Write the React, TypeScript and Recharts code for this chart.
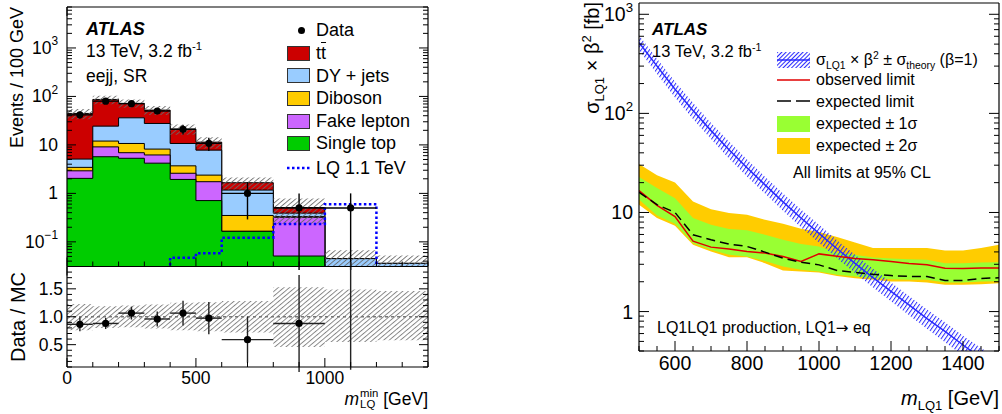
import React from 'react';
import { ComposedChart, Area, Line, Scatter, XAxis, YAxis, ErrorBar, ReferenceLine } from 'recharts';

const FONT = '"Liberation Sans", Arial, Helvetica, sans-serif';

// ---------------- Left panel: m_LQ^min distribution (events / 100 GeV) ----------------
const binEdges = [0, 100, 200, 300, 400, 500, 600, 800, 1000, 1200, 1400];
const singleTop = [2.04, 5.7, 5.3, 4.2, 1.94, 0.71, 0.165, 0.051, 0, 0];
const fakeLepton = [0.88, 3.4, 1.6, 2.0, 0.66, 1.03, 0, 0.27, 0, 0];
const diboson = [0.52, 2.9, 3.8, 2.0, 1.1, 0.64, 0.185, 0.01, 0, 0];
const dyJets = [1.66, 12.4, 25.5, 19.5, 7.0, 5.42, 0.82, 0.06, 0.045, 0.036];
const ttbar = [39.5, 62.3, 35.6, 24.5, 10.5, 3.6, 0.49, 0.12, 0, 0];
const lq1100 = [0, 0, 0, 0, 0.047, 0.058, 0.122, 0.233, 0.6, 0];
const mcUncLow = [0.76, 0.8, 0.81, 0.79, 0.76, 0.74, 0.72, 0.46, 0.55, 0.58];
const mcUncHigh = [1.23, 1.19, 1.2, 1.22, 1.25, 1.26, 1.28, 1.53, 1.49, 1.46];

const dataX = [50, 150, 250, 350, 450, 550, 700, 900, 1100];
const dataHalfWidth = [50, 50, 50, 50, 50, 50, 100, 100, 100];
const dataY = [41.7, 80, 71, 50, 21, 10.8, 1.0, 0.5, 0.5];
const dataErrDown = [6.5, 8.9, 8.4, 7.1, 4.6, 3.3, 0.71, 0.4999, 0.4999];
const dataErrUp = [6.5, 8.9, 8.4, 7.1, 4.6, 3.3, 0.71, 0.5, 0.5];
const ratioY = [0.865, 0.88, 1.065, 0.96, 1.065, 0.975, 0.59, 0.88, 11];
const ratioErrDown = [0.125, 0.1, 0.115, 0.135, 0.22, 0.29, 0.41, 0.87, 10.95];
const ratioErrUp = [0.125, 0.1, 0.115, 0.135, 0.22, 0.29, 0.41, 0.87, 10.95];

// ---------------- Right panel: limits ----------------
const lqMass = [500, 550, 600, 650, 700, 750, 800, 850, 900, 950, 1000, 1050, 1100, 1150, 1200, 1250, 1300, 1350, 1400, 1450, 1500];
const observedLimit = [16.6, 11.8, 9.1, 5.14, 4.47, 4.27, 4.04, 3.89, 3.6, 3.2, 3.82, 3.62, 3.44, 3.33, 3.2, 3.06, 2.96, 2.74, 2.72, 2.76, 2.76];
const expectedLimit = [16.0, 12.0, 10.0, 5.96, 5.3, 4.8, 4.54, 3.98, 3.46, 3.15, 2.96, 2.6, 2.48, 2.38, 2.31, 2.26, 2.26, 2.06, 2.06, 2.16, 2.19];
const exp1Low = [13.5, 9.3, 7.7, 4.9, 4.2, 3.74, 3.6, 3.23, 2.85, 2.64, 2.54, 2.35, 2.26, 2.17, 2.12, 2.09, 2.09, 1.96, 1.96, 2.01, 2.02];
const exp1High = [22.8, 17.7, 13.9, 8.8, 7.5, 6.8, 6.6, 5.96, 5.3, 4.8, 4.54, 3.95, 3.74, 3.52, 3.44, 3.38, 3.33, 3.08, 3.08, 3.13, 3.15];
const exp2Low = [12, 8.8, 7.35, 4.72, 4.04, 3.54, 3.54, 3.08, 2.6, 2.54, 2.48, 2.29, 2.17, 2.09, 2.01, 2.01, 1.96, 1.86, 1.86, 1.89, 1.93];
const exp2High = [30.9, 23.7, 20.1, 12.9, 10.8, 9.9, 9.5, 8.45, 7.7, 6.85, 6.34, 5.65, 4.99, 4.37, 4.37, 4.37, 4.37, 4.14, 4.14, 4.37, 4.72];
const theoryXsec = [520, 300, 175, 107, 67, 43, 28.3, 19, 12.8, 8.8, 6.15, 4.3, 3.07, 2.2, 1.6, 1.17, 0.85, 0.63, 0.46, 0.34, 0.26];
const theoryLow = [435, 250, 145, 88, 55, 35, 23.1, 15.5, 10.4, 7.1, 4.95, 3.45, 2.45, 1.75, 1.27, 0.92, 0.67, 0.49, 0.36, 0.26, 0.2];
const theoryHigh = [615, 355, 208, 128, 80, 52, 34.2, 23, 15.5, 10.7, 7.5, 5.25, 3.75, 2.7, 1.97, 1.44, 1.05, 0.78, 0.57, 0.43, 0.33];

// ---------------- derived tables ----------------
const pos = (v: number) => (v > 0 ? v : 1e-4);
const histTable = binEdges.map((x, i) => {
  const b = Math.min(i, singleTop.length - 1);
  const st = singleTop[b];
  const fk = st + fakeLepton[b];
  const db = fk + diboson[b];
  const dy = db + dyJets[b];
  const tt = dy + ttbar[b];
  return {
    x,
    st: pos(st),
    fk: pos(fk),
    db: pos(db),
    dy: pos(dy),
    tt: pos(tt),
    band: [tt * mcUncLow[b], tt * mcUncHigh[b]],
    lq: pos(lq1100[b]),
  };
});
const ratioTable = binEdges.map((x, i) => {
  const b = Math.min(i, mcUncLow.length - 1);
  return { x, band: [mcUncLow[b], mcUncHigh[b]] };
});
const dataPoints = dataX.map((x, i) => ({
  x,
  y: dataY[i],
  ey: [dataErrDown[i], dataErrUp[i]],
  ex: [dataHalfWidth[i], dataHalfWidth[i]],
}));
const ratioPoints = dataX.map((x, i) => ({
  x,
  y: ratioY[i],
  ey: [ratioErrDown[i], ratioErrUp[i]],
  ex: [dataHalfWidth[i], dataHalfWidth[i]],
}));
const limitTable = lqMass.map((x, i) => ({
  x,
  obs: observedLimit[i],
  exp: expectedLimit[i],
  s1: [exp1Low[i], exp1High[i]],
  s2: [exp2Low[i], exp2High[i]],
  th: theoryXsec[i],
  thBand: [theoryLow[i], theoryHigh[i]],
}));

// ---------------- tick helpers ----------------
const logTicks = (min: number, max: number) => {
  const out: number[] = [];
  for (let e = -3; e <= 5; e++) {
    for (let m = 1; m <= 9; m++) {
      const v = m * Math.pow(10, e);
      if (v >= min * 0.9999 && v <= max * 1.0001) out.push(v);
    }
  }
  return out;
};
const isLogMajor = (v: number) => Math.abs(Math.log10(v) - Math.round(Math.log10(v))) < 1e-6;
const logLabel = (v: number) => {
  const e = Math.round(Math.log10(v));
  if (e === 0) return '1';
  if (e === 1) return '10';
  return (
    <>
      10
      <tspan dy="-0.55em" fontSize="0.68em">{e < 0 ? '\u2212' + -e : String(e)}</tspan>
    </>
  );
};
const rangeTicks = (a: number, b: number, step: number) => {
  const out: number[] = [];
  for (let v = a; v <= b + 1e-9; v += step) out.push(Math.round(v * 1000) / 1000);
  return out;
};

type Side = 'left' | 'right' | 'top' | 'bottom';
function makeTick(
  side: Side,
  isMajor: (v: number) => boolean,
  majorLen: number,
  minorLen: number,
  label?: (v: number) => React.ReactNode,
  fontSize = 18,
  gap = 8
) {
  return (props: any) => {
    const { x, y, payload } = props;
    const v = payload.value;
    const maj = isMajor(v);
    const len = maj ? majorLen : minorLen;
    let x2 = x;
    let y2 = y;
    if (side === 'left') x2 = x + len;
    else if (side === 'right') x2 = x - len;
    else if (side === 'bottom') y2 = y - len;
    else y2 = y + len;
    let text: React.ReactNode = null;
    if (maj && label) {
      if (side === 'left') {
        text = (
          <text x={x - gap} y={y} textAnchor="end" dominantBaseline="central" fontSize={fontSize} fontFamily={FONT} fill="#000">
            {label(v)}
          </text>
        );
      } else if (side === 'bottom') {
        text = (
          <text x={x} y={y + gap} textAnchor="middle" dominantBaseline="central" fontSize={fontSize} fontFamily={FONT} fill="#000">
            {label(v)}
          </text>
        );
      }
    }
    return (
      <g>
        <line x1={x} y1={y} x2={x2} y2={y2} stroke="#000" strokeWidth={1} />
        {text}
      </g>
    );
  };
}

const axisLine = { stroke: '#000', strokeWidth: 1.2 };
const commonAxis = { tickSize: 0, tickMargin: 0, tickLine: false, interval: 0 as const, axisLine, allowDataOverflow: true };

const DataDot = (props: any) => {
  const { cx, cy } = props;
  if (cx == null || cy == null || isNaN(cx) || isNaN(cy)) return <g />;
  return <circle cx={cx} cy={cy} r={3.6} fill="#000" />;
};

const Hatch = ({ id, color, spacing, angle, width }: { id: string; color: string; spacing: number; angle: number; width: number }) => (
  <pattern id={id} patternUnits="userSpaceOnUse" width={spacing} height={10} patternTransform={`rotate(${angle})`}>
    <line x1={0.5} y1={0} x2={0.5} y2={10} stroke={color} strokeWidth={width} />
  </pattern>
);

// ---------------- text helpers ----------------
const Txt = ({ x, y, size, children, style }: any) => (
  <div
    style={{
      position: 'absolute',
      left: x,
      top: y,
      fontSize: size,
      lineHeight: 1,
      transform: 'translateY(-50%)',
      whiteSpace: 'nowrap',
      ...style,
    }}
  >
    {children}
  </div>
);
const Sup = ({ children }: any) => (
  <span style={{ fontSize: '0.65em', position: 'relative', top: '-0.6em' }}>{children}</span>
);
const Sub = ({ children }: any) => (
  <span style={{ fontSize: '0.65em', position: 'relative', top: '0.35em' }}>{children}</span>
);

const RotText = ({ cx, yAnchor, anchor, size, children }: any) => {
  const W = 300;
  const H = size * 1.2;
  let top = 0;
  let align: any = 'right';
  if (anchor === 'end') {
    top = yAnchor + W;
    align = 'right';
  } else {
    top = yAnchor + W / 2;
    align = 'center';
  }
  return (
    <div
      style={{
        position: 'absolute',
        left: cx - H / 2,
        top,
        width: W,
        height: H,
        lineHeight: `${H}px`,
        fontSize: size,
        textAlign: align,
        transformOrigin: '0 0',
        transform: 'rotate(-90deg)',
        whiteSpace: 'nowrap',
      }}
    >
      {children}
    </div>
  );
};

const Swatch = ({ x, y, w, h, color }: any) => (
  <div
    style={{
      position: 'absolute',
      left: x,
      top: y - h / 2,
      width: w - 2,
      height: h - 2,
      background: color,
      border: '1px solid #333',
    }}
  />
);

export default function App() {
  const leftTicksY = logTicks(0.031, 7000);
  const leftTicksX = rangeTicks(0, 1400, 100);
  const ratioTicksY = rangeTicks(0.1, 1.9, 0.1);
  const rightTicksX = rangeTicks(500, 1500, 50);
  const rightTicksY = logTicks(0.4, 1300);
  const xMajLeft = (v: number) => v % 500 === 0;
  const ratioMaj = (v: number) => Math.abs(v * 2 - Math.round(v * 2)) < 1e-6;
  const xMajRight = (v: number) => v % 200 === 0;

  const legRowsLeft = [53, 75.5, 98, 121, 143];
  const legColorsLeft = ['#cc0000', '#99ccff', '#ffcc00', '#cc66ff', '#00cc00'];

  return (
    <div
      style={{
        position: 'fixed',
        left: 0,
        top: 0,
        width: 1002,
        height: 414,
        background: '#fff',
        fontFamily: FONT,
        color: '#000',
        overflow: 'hidden',
      }}
    >
      {/* ---------- left top panel ---------- */}
      <div style={{ position: 'absolute', left: 0, top: 0 }}>
        <ComposedChart width={440} height={270} data={histTable} margin={{ top: 6, right: 11, bottom: 2.5, left: 66 }}>
          <defs>
            <Hatch id="hatchGrayTop" color="#666" spacing={3.6} angle={50} width={0.9} />
          </defs>
          <XAxis dataKey="x" type="number" domain={[0, 1400]} ticks={leftTicksX} height={1} tick={makeTick('bottom', xMajLeft, 9, 5)} {...commonAxis} />
          <XAxis xAxisId="top" orientation="top" type="number" domain={[0, 1400]} ticks={leftTicksX} height={1} tick={makeTick('top', xMajLeft, 9, 5)} {...commonAxis} />
          <YAxis scale="log" type="number" domain={[0.031, 7000]} ticks={leftTicksY} width={1} tick={makeTick('left', isLogMajor, 9, 5, logLabel, 17.5, 9)} {...commonAxis} />
          <YAxis yAxisId="right" orientation="right" scale="log" type="number" domain={[0.031, 7000]} ticks={leftTicksY} width={1} tick={makeTick('right', isLogMajor, 9, 5)} {...commonAxis} />
          <Area type="stepAfter" dataKey="tt" fill="#cc0000" fillOpacity={1} stroke="#000" strokeWidth={1} baseValue={0.031} dot={false} activeDot={false} isAnimationActive={false} />
          <Area type="stepAfter" dataKey="dy" fill="#99ccff" fillOpacity={1} stroke="#000" strokeWidth={1} baseValue={0.031} dot={false} activeDot={false} isAnimationActive={false} />
          <Area type="stepAfter" dataKey="db" fill="#ffcc00" fillOpacity={1} stroke="#000" strokeWidth={1} baseValue={0.031} dot={false} activeDot={false} isAnimationActive={false} />
          <Area type="stepAfter" dataKey="fk" fill="#cc66ff" fillOpacity={1} stroke="#000" strokeWidth={1} baseValue={0.031} dot={false} activeDot={false} isAnimationActive={false} />
          <Area type="stepAfter" dataKey="st" fill="#00cc00" fillOpacity={1} stroke="#000" strokeWidth={1} baseValue={0.031} dot={false} activeDot={false} isAnimationActive={false} />
          <Area type="stepAfter" dataKey="band" fill="url(#hatchGrayTop)" fillOpacity={1} stroke="none" dot={false} activeDot={false} isAnimationActive={false} />
          <Line type="stepAfter" dataKey="lq" stroke="#0000ff" strokeWidth={2.5} strokeDasharray="2.5 2.5" dot={false} activeDot={false} isAnimationActive={false} />
          <Scatter data={dataPoints} dataKey="y" shape={DataDot} isAnimationActive={false}>
            <ErrorBar dataKey="ey" direction="y" width={0} stroke="#000" strokeWidth={1.4} />
            <ErrorBar dataKey="ex" direction="x" width={0} stroke="#000" strokeWidth={1.4} />
          </Scatter>
        </ComposedChart>
      </div>

      {/* ---------- left ratio panel ---------- */}
      <div style={{ position: 'absolute', left: 0, top: 262 }}>
        <ComposedChart width={440} height={152} data={ratioTable} margin={{ top: 3.5, right: 11, bottom: 46, left: 66 }}>
          <defs>
            <Hatch id="hatchGrayRatio" color="#777" spacing={3.6} angle={50} width={0.9} />
          </defs>
          <XAxis dataKey="x" type="number" domain={[0, 1400]} ticks={leftTicksX} height={1} tick={makeTick('bottom', xMajLeft, 9, 5, (v) => String(v), 17.5, 11)} {...commonAxis} />
          <XAxis xAxisId="top" orientation="top" type="number" domain={[0, 1400]} ticks={leftTicksX} height={1} tick={makeTick('top', xMajLeft, 9, 5)} {...commonAxis} />
          <YAxis type="number" domain={[0.1, 1.9]} ticks={ratioTicksY} width={1} tick={makeTick('left', ratioMaj, 9, 5, (v) => v.toFixed(1), 17.5, 4)} {...commonAxis} />
          <YAxis yAxisId="right" orientation="right" type="number" domain={[0.1, 1.9]} ticks={ratioTicksY} width={1} tick={makeTick('right', ratioMaj, 9, 5)} {...commonAxis} />
          <Area type="stepAfter" dataKey="band" fill="url(#hatchGrayRatio)" fillOpacity={1} stroke="none" dot={false} activeDot={false} isAnimationActive={false} />
          <ReferenceLine y={1} stroke="#777" strokeWidth={1.5} strokeDasharray="3 3" />
          <Scatter data={ratioPoints} dataKey="y" shape={DataDot} isAnimationActive={false}>
            <ErrorBar dataKey="ey" direction="y" width={0} stroke="#222" strokeWidth={1.4} />
            <ErrorBar dataKey="ex" direction="x" width={0} stroke="#222" strokeWidth={1.4} />
          </Scatter>
        </ComposedChart>
      </div>

      {/* ---------- right limit panel ---------- */}
      <div style={{ position: 'absolute', left: 580, top: 0 }}>
        <ComposedChart width={422} height={414} data={limitTable} margin={{ top: 2, right: 2, bottom: 62, left: 58 }}>
          <defs>
            <Hatch id="hatchBlue" color="#2a2aff" spacing={3.4} angle={35} width={1} />
          </defs>
          <XAxis dataKey="x" type="number" domain={[500, 1500]} ticks={rightTicksX} height={1} tick={makeTick('bottom', xMajRight, 10, 5, (v) => String(v), 19.5, 12)} {...commonAxis} />
          <XAxis xAxisId="top" orientation="top" type="number" domain={[500, 1500]} ticks={rightTicksX} height={1} tick={makeTick('top', xMajRight, 10, 5)} {...commonAxis} />
          <YAxis scale="log" type="number" domain={[0.4, 1300]} ticks={rightTicksY} width={1} tick={makeTick('left', isLogMajor, 10, 5, logLabel, 19.5, 6)} {...commonAxis} />
          <YAxis yAxisId="right" orientation="right" scale="log" type="number" domain={[0.4, 1300]} ticks={rightTicksY} width={1} tick={makeTick('right', isLogMajor, 10, 5)} {...commonAxis} />
          <Area type="linear" dataKey="s2" fill="#ffcc00" fillOpacity={1} stroke="none" dot={false} activeDot={false} isAnimationActive={false} />
          <Area type="linear" dataKey="s1" fill="#99ff33" fillOpacity={1} stroke="none" dot={false} activeDot={false} isAnimationActive={false} />
          <Area type="linear" dataKey="thBand" fill="url(#hatchBlue)" fillOpacity={1} stroke="none" dot={false} activeDot={false} isAnimationActive={false} />
          <Line type="linear" dataKey="th" stroke="#2a2aff" strokeWidth={1.5} dot={false} activeDot={false} isAnimationActive={false} />
          <Line type="linear" dataKey="obs" stroke="#e00000" strokeWidth={1.5} dot={false} activeDot={false} isAnimationActive={false} />
          <Line type="linear" dataKey="exp" stroke="#000" strokeWidth={1.5} strokeDasharray="9 5" dot={false} activeDot={false} isAnimationActive={false} />
        </ComposedChart>
      </div>

      {/* ---------- left texts & legend ---------- */}
      <Txt x={86} y={29} size={18} style={{ fontWeight: 'bold', fontStyle: 'italic' }}>ATLAS</Txt>
      <Txt x={86} y={52} size={17.5}>13 TeV, 3.2 fb<Sup>-1</Sup></Txt>
      <Txt x={86} y={77} size={17.5}>eejj, SR</Txt>

      <div style={{ position: 'absolute', left: 298, top: 27, width: 7, height: 7, borderRadius: '50%', background: '#000' }} />
      <Txt x={316} y={30} size={18}>Data</Txt>
      {legRowsLeft.map((yy, i) => (
        <Swatch key={i} x={287} y={yy} w={23} h={15} color={legColorsLeft[i]} />
      ))}
      <Txt x={316} y={53} size={18}>t<span style={{ textDecoration: 'overline' }}>t</span></Txt>
      <Txt x={316} y={75.5} size={18}>DY + jets</Txt>
      <Txt x={316} y={98} size={18}>Diboson</Txt>
      <Txt x={316} y={121} size={18}>Fake lepton</Txt>
      <Txt x={316} y={143} size={18}>Single top</Txt>
      <svg style={{ position: 'absolute', left: 287, top: 163 }} width={24} height={10}>
        <line x1={0} y1={5} x2={24} y2={5} stroke="#0000ff" strokeWidth={2.5} strokeDasharray="2.5 2.5" />
      </svg>
      <Txt x={316} y={168} size={18}>LQ 1.1 TeV</Txt>

      <RotText cx={18} yAnchor={7} anchor="end" size={18}>Events / 100 GeV</RotText>
      <RotText cx={18} yAnchor={317} anchor="middle" size={20}>Data / MC</RotText>
      <Txt x={0} y={400} size={17.5} style={{ left: 'auto', right: 1002 - 428 }}>
        <i>m</i>
        <span style={{ display: 'inline-flex', flexDirection: 'column', verticalAlign: 'middle', fontSize: '0.65em', lineHeight: 1, marginLeft: 1, position: 'relative', top: '-0.1em' }}>
          <span>min</span>
          <span>LQ</span>
        </span>{' '}
        [GeV]
      </Txt>

      {/* ---------- right texts & legend ---------- */}
      <Txt x={652} y={29} size={17} style={{ fontWeight: 'bold', fontStyle: 'italic' }}>ATLAS</Txt>
      <Txt x={652} y={51} size={16.5}>13 TeV, 3.2 fb<Sup>-1</Sup></Txt>

      <svg style={{ position: 'absolute', left: 777, top: 52 }} width={33} height={16}>
        <defs>
          <pattern id="hatchBlueLeg" patternUnits="userSpaceOnUse" width={3} height={10} patternTransform="rotate(45)">
            <line x1={0.5} y1={0} x2={0.5} y2={10} stroke="#2a2aff" strokeWidth={1.1} />
          </pattern>
        </defs>
        <rect x={0} y={0} width={33} height={16} fill="url(#hatchBlueLeg)" />
        <line x1={0} y1={8} x2={33} y2={8} stroke="#2a2aff" strokeWidth={1.5} />
      </svg>
      <Txt x={816} y={60} size={16}>
        σ<Sub>LQ1</Sub> × β<Sup>2</Sup> ± σ<Sub>theory</Sub> (β=1)
      </Txt>
      <svg style={{ position: 'absolute', left: 777, top: 75 }} width={33} height={10}>
        <line x1={0} y1={5} x2={33} y2={5} stroke="#e00000" strokeWidth={1.5} />
      </svg>
      <Txt x={816} y={80} size={16}>observed limit</Txt>
      <svg style={{ position: 'absolute', left: 777, top: 96 }} width={33} height={10}>
        <line x1={0} y1={5} x2={33} y2={5} stroke="#000" strokeWidth={1.5} strokeDasharray="14 5" />
      </svg>
      <Txt x={816} y={102} size={16}>expected limit</Txt>
      <div style={{ position: 'absolute', left: 777, top: 116, width: 33, height: 16, background: '#99ff33' }} />
      <Txt x={816} y={124} size={16}>expected ± 1σ</Txt>
      <div style={{ position: 'absolute', left: 777, top: 138, width: 33, height: 16, background: '#ffcc00' }} />
      <Txt x={816} y={146} size={16}>expected ± 2σ</Txt>
      <Txt x={793} y={173} size={16}>All limits at 95% CL</Txt>
      <Txt x={657} y={328} size={16}>
        LQ1LQ1 production, LQ1<span style={{ fontFamily: '"DejaVu Sans", sans-serif', fontSize: '0.95em' }}>→</span> eq
      </Txt>

      <RotText cx={592} yAnchor={2} anchor="end" size={20}>
        σ<Sub>LQ1</Sub> × β<Sup>2</Sup> [fb]
      </RotText>
      <Txt x={0} y={398} size={20} style={{ left: 'auto', right: 1002 - 999 }}>
        <i>m</i>
        <Sub>LQ1</Sub> [GeV]
      </Txt>
    </div>
  );
}
